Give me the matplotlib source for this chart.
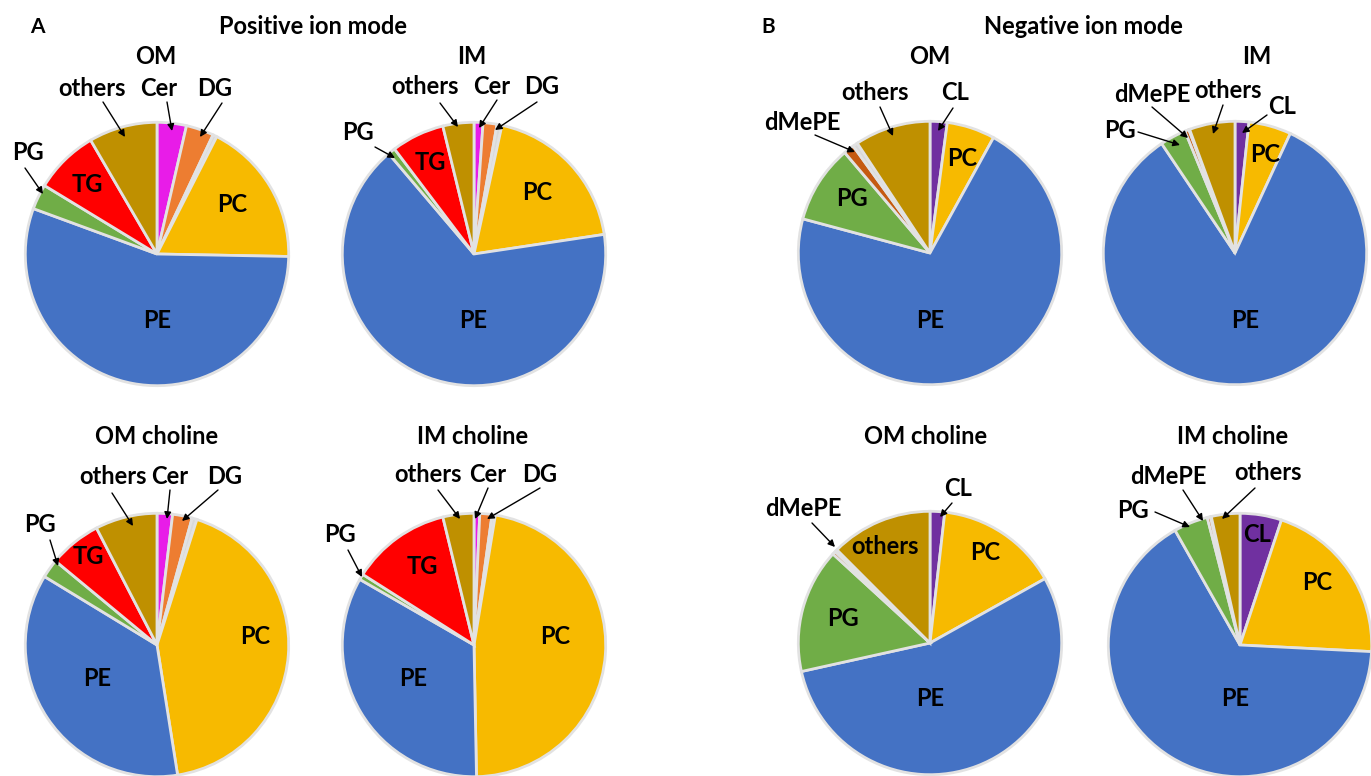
import matplotlib
matplotlib.use("Agg")
from matplotlib import pyplot as plt

plt.rcParams['font.family'] = ['Lato', 'DejaVu Sans']
plt.rcParams['font.weight'] = 'bold'

W, H = 1371, 776

# 颜色
colors = {'Cer': '#E81CE8', 'DG': '#ED7D31', 'gray': '#D9D9D9', 'PC': '#F7BA00',
          'PE': '#4472C4', 'PG': '#70AD47', 'TG': '#FF0000', 'others': '#BF9000',
          'CL': '#7030A0', 'dMePE': '#C55A11'}

# 正离子模式 (顺时针, 从12点开始)
pos_classes = ['Cer', 'DG', 'gray', 'PC', 'PE', 'PG', 'TG', 'others']
pos_om = [3.6, 3.4, 0.5, 17.8, 55.3, 3.1, 7.9, 8.4]
pos_im = [1.1, 1.7, 0.6, 19.2, 66.1, 0.9, 6.5, 3.8]
pos_om_choline = [1.9, 2.4, 0.6, 42.6, 36.2, 2.3, 6.4, 7.6]
pos_im_choline = [0.7, 1.5, 0.4, 47.1, 33.6, 0.7, 12.2, 3.8]

# 负离子模式
neg_classes = ['CL', 'PC', 'PE', 'PG', 'dMePE', 'gray', 'others']
neg_om = [2.1, 5.9, 71.1, 9.6, 1.3, 0.6, 9.3]
neg_im = [1.7, 5.2, 83.7, 3.2, 0.5, 0.1, 5.6]
neg_om_choline = [1.8, 15.1, 54.7, 15.3, 0.4, 0.3, 12.5]
neg_im_choline = [5.1, 20.7, 66.0, 4.2, 0.4, 0.1, 3.5]

R = 133  # 半径 (像素)

fig = plt.figure(figsize=(W / 100, H / 100), dpi=100)


def draw_pie(cx, cy, values, classes):
    ax = fig.add_axes([(cx - R) / W, 1 - (cy + R) / H, 2 * R / W, 2 * R / H])
    ax.pie(values, colors=[colors[c] for c in classes], startangle=90,
           counterclock=False, radius=1,
           wedgeprops=dict(edgecolor='#E2E2E2', linewidth=2.0))
    ax.set_xlim(-1.01, 1.01)
    ax.set_ylim(-1.01, 1.01)
    ax.set_aspect('equal')
    ax.axis('off')
    for p in ax.patches:
        p.set_clip_on(False)
    return ax


draw_pie(157, 254, pos_om, pos_classes)
draw_pie(474, 254, pos_im, pos_classes)
draw_pie(157, 645, pos_om_choline, pos_classes)
draw_pie(474, 645, pos_im_choline, pos_classes)
draw_pie(930, 253, neg_om, neg_classes)
draw_pie(1235, 253, neg_im, neg_classes)
draw_pie(930, 643, neg_om_choline, neg_classes)
draw_pie(1240, 645, neg_im_choline, neg_classes)

# 文字层
ov = fig.add_axes([0, 0, 1, 1], zorder=10)
ov.set_xlim(0, W)
ov.set_ylim(H, 0)
ov.axis('off')
ov.patch.set_alpha(0)

fs = 17


def txt(x, y, s, size=fs):
    ov.text(x, y, s, ha='center', va='center', fontsize=size, fontweight='bold', color='black')


def arrow(s, tx, ty, x0, y0, x1, y1):
    txt(tx, ty, s)
    ov.annotate('', xy=(x1, y1), xytext=(x0, y0),
                arrowprops=dict(arrowstyle='-|>', color='black', lw=1.0,
                                mutation_scale=10, shrinkA=0, shrinkB=0))


# 标题
ov.text(37, 27, 'A', ha='center', va='center', fontsize=15, fontweight='bold')
ov.text(768, 27, 'B', ha='center', va='center', fontsize=15, fontweight='bold')
txt(313, 27, 'Positive ion mode')
txt(1083, 27, 'Negative ion mode')
txt(156, 57, 'OM')
txt(472, 57, 'IM')
txt(157, 436, 'OM choline')
txt(473, 436, 'IM choline')
txt(930, 57, 'OM')
txt(1257, 57, 'IM')
txt(926, 436, 'OM choline')
txt(1233, 436, 'IM choline')

# A OM
arrow('others', 92, 89, 103, 102, 125, 137)
arrow('Cer', 159, 89, 167, 102, 172, 131)
arrow('DG', 215, 89, 222, 103, 200, 137)
arrow('PG', 28, 153, 25, 168, 43, 194)
txt(87, 185, 'TG')
txt(232, 205, 'PC')
txt(157, 320, 'PE')

# A IM
arrow('others', 425, 87, 440, 103, 458, 127)
arrow('Cer', 492, 87, 497, 100, 479, 128)
arrow('DG', 542, 87, 537, 102, 495, 130)
arrow('PG', 358, 133, 375, 147, 395, 158)
txt(430, 163, 'TG')
txt(537, 193, 'PC')
txt(473, 320, 'PE')

# A OM choline
arrow('others', 113, 477, 112, 493, 133, 526)
arrow('Cer', 170, 477, 170, 490, 167, 519)
arrow('DG', 225, 477, 218, 490, 182, 521)
arrow('PG', 40, 525, 50, 540, 58, 566)
txt(88, 557, 'TG')
txt(255, 636, 'PC')
txt(97, 678, 'PE')

# A IM choline
arrow('others', 428, 475, 438, 490, 460, 519)
arrow('Cer', 488, 475, 488, 488, 475, 519)
arrow('DG', 540, 475, 540, 488, 487, 519)
arrow('PG', 340, 535, 348, 550, 362, 577)
txt(422, 567, 'TG')
txt(555, 636, 'PC')
txt(413, 678, 'PE')

# B OM
arrow('others', 875, 92, 880, 107, 893, 136)
arrow('CL', 955, 93, 953, 108, 938, 131)
arrow('dMePE', 802, 122, 815, 135, 855, 152)
txt(962, 158, 'PC')
txt(852, 198, 'PG')
txt(930, 320, 'PE')

# B IM
arrow('dMePE', 1152, 95, 1152, 107, 1188, 138)
arrow('others', 1228, 90, 1223, 105, 1213, 134)
arrow('CL', 1282, 107, 1267, 115, 1242, 133)
arrow('PG', 1120, 130, 1138, 132, 1180, 145)
txt(1265, 155, 'PC')
txt(1245, 320, 'PE')

# B OM choline
arrow('CL', 958, 488, 952, 503, 940, 517)
arrow('dMePE', 803, 508, 812, 523, 835, 547)
txt(885, 547, 'others')
txt(985, 553, 'PC')
txt(843, 618, 'PG')
txt(930, 698, 'PE')

# B IM choline
arrow('dMePE', 1168, 477, 1183, 490, 1203, 521)
arrow('others', 1268, 473, 1255, 488, 1222, 519)
arrow('PG', 1133, 510, 1155, 512, 1190, 527)
txt(1257, 535, 'CL')
txt(1317, 582, 'PC')
txt(1235, 698, 'PE')

fig.savefig('out.png', dpi=100)
